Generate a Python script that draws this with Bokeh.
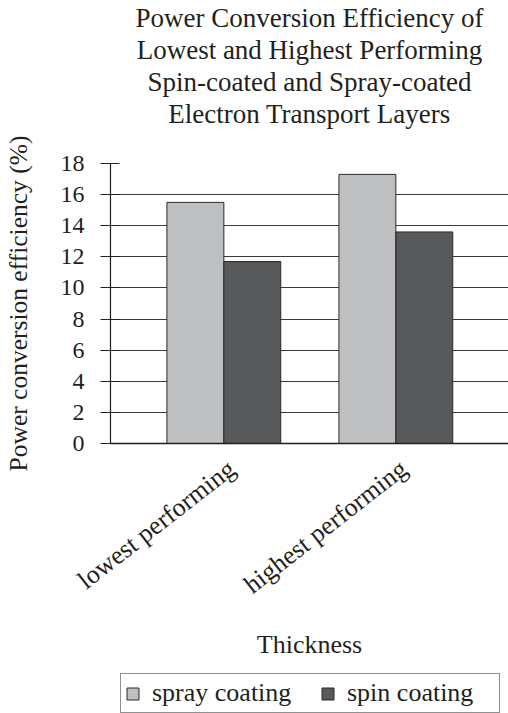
from math import radians
from bokeh.plotting import figure
from bokeh.layouts import column
from bokeh.models import (ColumnDataSource, FixedTicker, Range1d, Title, Legend, LegendItem,
                          LinearAxis)
from bokeh.embed import file_html
from bokeh.resources import INLINE

# ---- data ----
categories = ["lowest performing", "highest performing"]
spray_coating = [15.5, 17.3]
spin_coating = [11.7, 13.6]
y_ticks = [0, 2, 4, 6, 8, 10, 12, 14, 16, 18]
title_lines = [
    "Power Conversion Efficiency of",
    "Lowest and Highest Performing",
    "Spin-coated and Spray-coated",
    "Electron Transport Layers",
]
series_names = ["spray coating", "spin coating"]

FONT = "Liberation Serif"
TXT = "#231f20"
LIGHT = "#bebfc1"
DARK = "#58595b"
EDGE = "#2a2a2a"

bar_w = 0.331
label_shift = 0.046
idx = list(range(len(categories)))

p = figure(
    output_backend="svg", toolbar_location=None,
    frame_width=398, frame_height=280,
    x_range=Range1d(-0.659, 1.655), y_range=Range1d(0, y_ticks[-1]),
    min_border_left=0, min_border_right=0, min_border_top=0, min_border_bottom=0,
)
p.outline_line_color = None
p.background_fill_color = "white"
p.border_fill_color = "white"

src_spray = ColumnDataSource(dict(x=[i - bar_w / 2 for i in idx], top=spray_coating))
src_spin = ColumnDataSource(dict(x=[i + bar_w / 2 for i in idx], top=spin_coating))

r1 = p.vbar(x="x", top="top", bottom=0, width=bar_w, source=src_spray,
            fill_color=LIGHT, line_color=EDGE, line_width=1)
r2 = p.vbar(x="x", top="top", bottom=0, width=bar_w, source=src_spin,
            fill_color=DARK, line_color=EDGE, line_width=1)

# grid
p.xgrid.visible = False
p.ygrid.ticker = FixedTicker(ticks=y_ticks)
p.ygrid.grid_line_color = "#3a3a3a"
p.ygrid.grid_line_width = 1.2
p.ygrid.level = "underlay"

# y axis
ya = p.yaxis[0]
ya.ticker = FixedTicker(ticks=y_ticks)
ya.axis_line_color = "#231f20"
ya.axis_line_width = 1.2
ya.major_tick_line_color = "#231f20"
ya.major_tick_in = 9
ya.major_tick_out = 10
ya.minor_tick_line_color = None
ya.major_label_standoff = 16
ya.major_label_text_font = FONT
ya.major_label_text_font_size = "24px"
ya.major_label_text_color = TXT
ya.axis_label = "Power conversion efficiency (%)"
ya.axis_label_text_font = FONT
ya.axis_label_text_font_size = "25.5px"
ya.axis_label_text_font_style = "normal"
ya.axis_label_text_color = TXT
ya.axis_label_standoff = 25

# x axis
xa = p.xaxis[0]
xa.ticker = FixedTicker(ticks=[i + label_shift for i in idx])
xa.major_label_overrides = {i + label_shift: c for i, c in zip(idx, categories)}
xa.major_label_orientation = radians(38)
xa.axis_line_color = "#231f20"
xa.axis_line_width = 1.5
xa.major_tick_line_color = None
xa.minor_tick_line_color = None
xa.major_tick_in = 0
xa.major_tick_out = 0
xa.major_label_standoff = 22
xa.major_label_text_font = FONT
xa.major_label_text_font_size = "26px"
xa.major_label_text_color = TXT
xa.axis_label = "Thickness"
xa.axis_label_text_font = FONT
xa.axis_label_text_font_size = "26px"
xa.axis_label_text_font_style = "normal"
xa.axis_label_text_color = TXT
xa.axis_label_standoff = 16

SPACER_AT = -0.63

# an empty axis that only reserves room between the title block and the plot
spacer = LinearAxis(ticker=FixedTicker(ticks=[SPACER_AT]), axis_line_color=None,
                    major_tick_line_color="white", major_tick_line_width=1,
                    minor_tick_line_color=None,
                    major_tick_in=0, major_tick_out=35, minor_tick_in=0, minor_tick_out=0,
                    major_label_standoff=0, major_label_text_font_size="0px",
                    major_label_overrides={SPACER_AT: ""})
p.add_layout(spacer, "above")

# titles (added bottom line first: later titles sit farther from the plot)
for line in reversed(title_lines):
    t = Title(text=line, align="center", text_font=FONT, text_font_size="27px",
              text_font_style="normal", text_color=TXT, standoff=0, offset=0)
    p.add_layout(t, "above")

# ---- legend strip under the chart (its frame is aligned with the chart's frame) ----
lf = figure(
    output_backend="svg", toolbar_location=None, width=500, height=52,
    x_axis_location=None, y_axis_location=None,
    x_range=Range1d(-0.659, 1.655), y_range=Range1d(-1, 0),
    min_border_left=0, min_border_right=0, min_border_top=0, min_border_bottom=0,
)
lf.outline_line_color = None
lf.xgrid.visible = False
lf.ygrid.visible = False
l1 = lf.vbar(x="x", top="top", bottom=0, width=bar_w, source=src_spray,
             fill_color=LIGHT, line_color=EDGE, line_width=1, visible=False)
l2 = lf.vbar(x="x", top="top", bottom=0, width=bar_w, source=src_spin,
             fill_color=DARK, line_color=EDGE, line_width=1, visible=False)

legend = Legend(
    items=[LegendItem(label=series_names[0], renderers=[l1]),
           LegendItem(label=series_names[1], renderers=[l2])],
    orientation="horizontal", location=(10, 0),
    label_text_font=FONT, label_text_font_size="26px", label_text_color=TXT,
    glyph_width=15, glyph_height=15, label_standoff=12, spacing=20, label_width=148,
    padding=4, margin=0,
    border_line_color="#231f20", border_line_width=1,
    background_fill_alpha=1,
)
lf.add_layout(legend, "center")

layout = column(p, lf, spacing=0)
open("out.html", "w").write(file_html(layout, INLINE))
